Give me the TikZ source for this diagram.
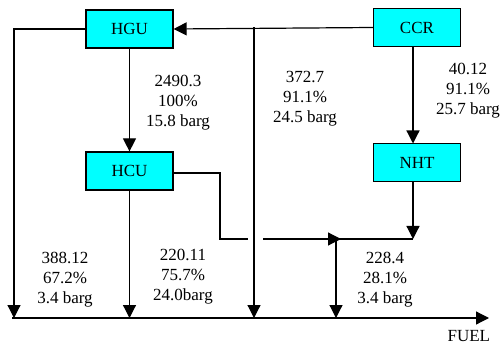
\documentclass[tikz,border=0pt]{standalone}
\usepackage{fontspec}
\setmainfont{Liberation Serif}
\usetikzlibrary{arrows.meta, positioning, calc}
\definecolor{unitcyan}{RGB}{0,255,255}

\begin{document}
\begin{tikzpicture}[x=1pt, y=-1pt, line width=1.2pt,
    >={Triangle[length=13pt, width=13pt]},
    unit/.style={draw, fill=unitcyan, minimum width=87pt, minimum height=38pt,
        inner sep=0pt, font=\fontsize{17}{20}\selectfont},
    flow/.style={align=center, font=\fontsize{17}{20}\selectfont}]
    \useasboundingbox (0, 0) rectangle (500, 347);

    % Units
    \node[unit] (HGU) at (129.5, 29) {HGU};
    \node[unit] (HCU) at (129.5, 171) {HCU};
    \node[unit] (CCR) at (417, 27.5) {CCR};
    \node[unit] (NHT) at (417, 162.5) {NHT};

    % Fuel header
    \coordinate (fuelL) at (12, 318);
    \coordinate (fuelR) at (489, 318);
    \draw[->] (fuelL) -- (fuelR);
    \node[flow, anchor=north east] (fuel) at (494, 326) {FUEL};

    % HGU
    \draw[->] (HGU.west) -- (14, 29) -- (14, 318);
    \draw[->] (HGU) -- (HCU);

    % CCR
    \draw[->] (CCR.west) -- (HGU.east);
    \draw[->] (254, 27.5) -- (254, 318);
    \draw[->] (413, 46.5) -- (413, 143.5);

    % HCU and NHT to fuel
    \coordinate (mix) at (336, 239);
    \draw[->] (HCU) -- (129.5, 318);
    \draw (HCU.east |- 0, 173) -- (220, 173) -- (220, 239) -- (248, 239);
    \draw[->] (263, 239) -- ($(mix) + (5, 0)$);
    \draw[->] (413, 181.5) -- (413, 239);
    \draw (413, 239) -- (mix);
    \draw[->] (mix) -- (336, 318);

    % Flow data
    \node[flow] (f1) at (178, 103) {2490.3\\100\%\\15.8 barg};
    \node[flow] (f2) at (305, 99) {372.7\\91.1\%\\24.5 barg};
    \node[flow] (f3) at (468, 91) {40.12\\91.1\%\\25.7 barg};
    \node[flow] (f4) at (65, 280) {388.12\\67.2\%\\3.4 barg};
    \node[flow] (f5) at (183, 277) {220.11\\75.7\%\\24.0barg};
    \node[flow] (f6) at (385, 280) {228.4\\28.1\%\\3.4 barg};
\end{tikzpicture}
\end{document}
